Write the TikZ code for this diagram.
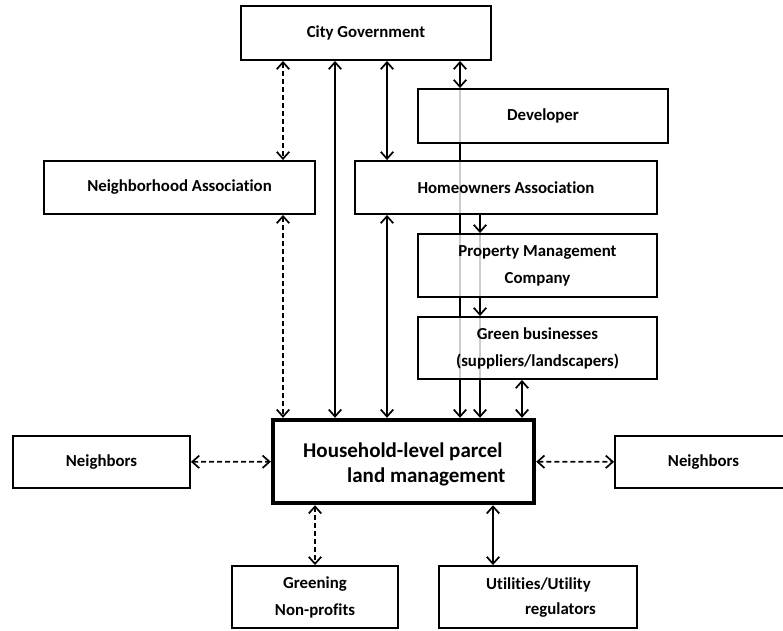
\documentclass[tikz,border=0pt]{standalone}
\usepackage{fontspec}
\setmainfont{Carlito}[Ligatures=CommonOff]
\usetikzlibrary{arrows.meta}
\pgfdeclarelayer{bg}
\pgfsetlayers{bg,main}
\tikzset{
  box/.style={draw, line width=1.9pt, fill=white, fill opacity=0.8, text opacity=1,
    inner sep=0pt, align=center, font=\fontsize{16.8}{27}\selectfont\bfseries},
  bigbox/.style={box, line width=4.4pt},
  txt/.style={inner sep=0pt, align=left},
  tip/.tip={Straight Barb[length=7pt,width=12.5pt,line width=1.7pt]},
  conn/.style={line width=1.7pt},
  sarr/.style={conn, -tip},
  darr/.style={conn, tip-tip},
  dasharr/.style={conn, tip-tip, dash pattern=on 5pt off 3pt}
}
\begin{document}
\begin{tikzpicture}[x=1pt,y=-1pt]
\useasboundingbox (0,0) rectangle (783,630);

% boxes
\node[box, minimum width=250, minimum height=54] (cg) at (366,33) {City Government};
\node[box, minimum width=250, minimum height=54] (dev) at (543,116) {Developer};
\node[box, minimum width=271, minimum height=53] (na) at (179.5,187.5) {Neighborhood Association};
\node[box, minimum width=302, minimum height=53] (hoa) at (506,187.5) {Homeowners Association};
\node[box, minimum width=239, minimum height=63] (pmc) at (537.5,265.5) {Property Management\\Company};
\node[box, minimum width=239, minimum height=62] (gb) at (537.5,348) {Green businesses\\(suppliers/landscapers)};
\node[bigbox, minimum width=261, minimum height=83] (hh) at (403.5,461.5) {};
\node[txt, anchor=base west, font=\fontsize{21}{25}\selectfont\bfseries] (hhl) at (303,482)
  {Household-level parcel\\\hspace*{44pt}land management};
\node[box, minimum width=177, minimum height=52] (nb1) at (101.5,462) {Neighbors};
\node[box, minimum width=177, minimum height=52] (nb2) at (703.5,462) {Neighbors};
\node[box, minimum width=166, minimum height=62] (gnp) at (315,597) {Greening\\Non-profits};
\node[box, minimum width=198, minimum height=62] (util) at (538,597) {};
\node[txt, anchor=base west, font=\fontsize{16.8}{25}\selectfont\bfseries] (utill) at (486,614)
  {Utilities/Utility\\\hspace*{39pt}regulators};

% x positions of vertical connectors
\coordinate (xa) at (283,0);
\coordinate (xb) at (335,0);
\coordinate (xc) at (387,0);
\coordinate (xd) at (460,0);
\coordinate (xe) at (480,0);
\coordinate (xf) at (522,0);
\coordinate (xg) at (315,0);
\coordinate (xh) at (493,0);

\begin{pgfonlayer}{bg}
\draw[dasharr] (cg.south -| xa) -- (na.north -| xa);
\draw[dasharr] (na.south -| xa) -- (hh.north -| xa);
\draw[darr] (cg.south -| xb) -- (hh.north -| xb);
\draw[darr] (cg.south -| xc) -- (hoa.north -| xc);
\draw[darr] (hoa.south -| xc) -- (hh.north -| xc);
\draw[darr] (cg.south -| xd) -- (dev.north -| xd);
\draw[sarr] (dev.north -| xd) -- (hh.north -| xd);
\draw[sarr] (hoa.south -| xe) -- (pmc.north -| xe);
\draw[sarr] (pmc.north -| xe) -- (gb.north -| xe);
\draw[sarr] (gb.north -| xe) -- (hh.north -| xe);
\draw[darr] (gb.south -| xf) -- (hh.north -| xf);
\draw[dasharr] (nb1) -- (hh);
\draw[dasharr] (hh) -- (nb2);
\draw[dasharr] (hh.south -| xg) -- (gnp.north -| xg);
\draw[darr] (hh.south -| xh) -- (util.north -| xh);
\end{pgfonlayer}
\end{tikzpicture}
\end{document}
